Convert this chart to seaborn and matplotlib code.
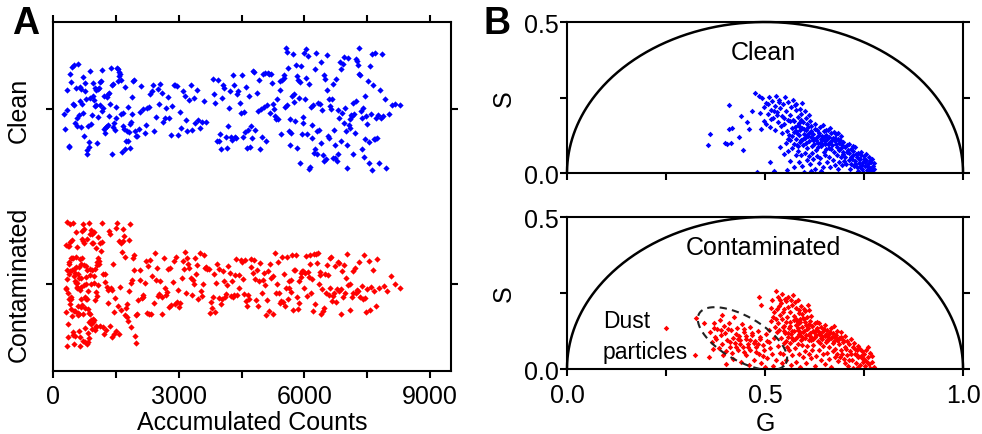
import numpy as np
import pandas as pd
import matplotlib
matplotlib.use("Agg")
import matplotlib.pyplot as plt
import seaborn as sns

# ---------------- data ----------------
categories = ["Clean", "Contaminated"]
count_ticks = [0, 1500, 3000, 4500, 6000, 7500, 9000]
count_tick_labels = ["0", "", "3000", "", "6000", "", "9000"]
phasor_ticks = [0.0, 0.25, 0.5, 0.75, 1.0]
phasor_tick_labels = ["0.0", "", "0.5", "", "1.0"]
s_ticks = [0.0, 0.25, 0.5]
s_tick_labels = ["0.0", "", "0.5"]

# Panel A : accumulated counts per particle, Clean sample (segments of the strip)
clean_counts_a = [255, 281, 322, 338, 371, 384, 402, 437, 451, 468, 497, 512, 519, 548, 566, 583, 597,
                  611, 634, 652, 668, 671, 694, 713, 726, 742, 759, 771, 788, 806, 812, 833, 847, 869,
                  878, 894, 915, 921, 946, 958, 973, 991, 1004, 1022, 1037, 1049, 1068, 1083, 1097,
                  1116, 1128, 1141, 1163, 1178, 1186, 1209, 1224, 1238, 1257, 1266, 1289, 1301, 1318,
                  1336, 1347, 1369, 1382, 1396, 1415, 1431, 1442, 1463, 1478, 1494, 1507, 1526, 1539,
                  1554, 1571, 1583, 1602, 1618, 1631, 1652, 1667, 1679, 1698, 1713, 1728, 1744, 1762,
                  1779, 1791, 1808, 1826, 1843, 1861, 1874, 1893, 1912, 1936, 1958, 1979]
clean_counts_b = [2015, 2048, 2083, 2110, 2152, 2186, 2214, 2247, 2291, 2318, 2356, 2389, 2421, 2463,
                  2495, 2527, 2561, 2604, 2633, 2671, 2702, 2745, 2778, 2806, 2851, 2884, 2917, 2952,
                  2989, 3031, 3064, 3098, 3142, 3177, 3205, 3248, 3286, 3319, 3357, 3394, 3438, 3471,
                  3512, 3556, 3603, 3648]
clean_counts_c = [3812, 3845, 3871, 3904, 3932, 3958, 3991, 4017, 4043, 4066, 4092, 4121, 4148, 4169,
                  4197, 4224, 4246, 4273, 4301, 4322, 4348, 4377, 4402, 4426, 4451, 4479, 4503, 4529,
                  4552, 4578, 4604, 4627, 4655, 4681, 4703, 4731, 4756, 4779, 4808, 4832, 4857, 4884,
                  4906, 4933, 4958, 4981, 5009, 5034, 5058, 5082, 5109, 5133, 5156, 5182, 5207, 5231,
                  5258, 5281, 5304, 5332, 5357, 5379, 5406, 5428, 5453, 5477]
clean_counts_d = [5502, 5519, 5541, 5556, 5578, 5593, 5611, 5634, 5648, 5667, 5689, 5702, 5724, 5741,
                  5759, 5776, 5797, 5812, 5833, 5849, 5866, 5885, 5903, 5921, 5938, 5957, 5974, 5992,
                  6011, 6027, 6046, 6063, 6081, 6099, 6118, 6134, 6152, 6171, 6188, 6206, 6223, 6242,
                  6259, 6277, 6296, 6312, 6331, 6348, 6366, 6385, 6402, 6419, 6438, 6456, 6473, 6491,
                  6509, 6528, 6545, 6562, 6581, 6598, 6617, 6634, 6652, 6671, 6688, 6706, 6723, 6742,
                  6759, 6777, 6796, 6813, 6831, 6849, 6867, 6884, 6903, 6920, 6938, 6957, 6974, 6992,
                  7011, 7028, 7046, 7064, 7082, 7099, 7118, 7135, 7153, 7171, 7189, 7207, 7225, 7243,
                  7261, 7278, 7296, 7314, 7332, 7351, 7368, 7386, 7404, 7422, 7441, 7458, 7476, 7495,
                  7512, 7531, 7549, 7567, 7585, 7603, 7622, 7641, 7659, 7678, 7697, 7716, 7736, 7757,
                  7779, 7802, 7826, 7851, 7883, 7921, 7958]
clean_counts_e = [8010, 8090, 8160, 8290]

# Panel A : Contaminated sample
contam_counts_a = [300, 306, 311, 318, 322, 329, 334, 341, 347, 352, 358, 363, 370, 375, 381, 388, 393,
                   399, 404, 411, 416, 423, 428, 434, 440, 445, 452, 457, 463, 469, 474, 481, 486, 492,
                   498, 503, 510, 515, 521, 527, 533, 538, 545, 550, 556, 562, 568, 573, 580, 585, 591,
                   597, 603, 608, 615, 620, 626, 632, 638, 644, 649, 656, 661, 667, 673, 679, 684, 691,
                   696, 702, 708, 714, 720, 726, 731, 737, 743, 749, 755, 761, 767, 772, 779, 784, 790,
                   796, 802, 808, 814, 820, 826, 832, 838, 844, 850, 856, 862, 868, 874, 880, 886, 892,
                   898, 905, 911, 917, 923, 929, 936, 942, 948, 955, 961, 968, 974, 981, 987, 994, 1001,
                   1008, 1015, 1022, 1029, 1037, 1044, 1052, 1060, 1068, 1076, 1085, 1094, 1103, 1113,
                   1124, 1137]
contam_counts_b = [1158, 1172, 1189, 1203, 1221, 1236, 1252, 1270, 1284, 1301, 1319, 1333, 1350, 1368,
                   1382, 1399, 1417, 1431, 1448, 1466, 1480, 1497, 1515, 1529, 1546, 1564, 1578, 1595,
                   1613, 1627, 1644, 1662, 1676, 1693, 1711, 1725, 1742, 1760, 1774, 1791, 1809, 1823,
                   1840, 1858, 1872, 1889, 1907, 1921, 1938, 1956, 1970, 1988]
contam_counts_c = [2008, 2031, 2066, 2079, 2112, 2140, 2153, 2188, 2221, 2237, 2270, 2294, 2318, 2349,
                   2362, 2401, 2433, 2447, 2476, 2512, 2529, 2558, 2590, 2611, 2639, 2672, 2686, 2721,
                   2748, 2770, 2803, 2819, 2856, 2881, 2904, 2938, 2952, 2991, 3017, 3039, 3074, 3092,
                   3121, 3156, 3170, 3204, 3233, 3251, 3288, 3306, 3339, 3365, 3388, 3417, 3446, 3461,
                   3498, 3524, 3547, 3580, 3597, 3633, 3659, 3676, 3712, 3738, 3760, 3791, 3808, 3844,
                   3872, 3889, 3921, 3950, 3968, 4003, 4027, 4049, 4083, 4101, 4134, 4162, 4178, 4215,
                   4240, 4263, 4296, 4311, 4347, 4372, 4395, 4428, 4446, 4481, 4505, 4527, 4559, 4583,
                   4601, 4638, 4662, 4684, 4717, 4735, 4770, 4793, 4816, 4849, 4866, 4902, 4925, 4948,
                   4979, 5001, 5036, 5058, 5079, 5113, 5131, 5166, 5189, 5210, 5244, 5262, 5297, 5318,
                   5341, 5372, 5390, 5421, 5444, 5463, 5494, 5512, 5531, 5559, 5577, 5602, 5624, 5641,
                   5669, 5688, 5705, 5733, 5751, 5774, 5798, 5815, 5842, 5861, 5879, 5907, 5925, 5948,
                   5970, 5988, 6014, 6036, 6053, 6081, 6099, 6122, 6145, 6162, 6190, 6208, 6227, 6254,
                   6273, 6296, 6318, 6337, 6363, 6381, 6402, 6428, 6447, 6469, 6491, 6510, 6537, 6555,
                   6578, 6601, 6619, 6645, 6664, 6686, 6709, 6728, 6754, 6772, 6795, 6819, 6837, 6863,
                   6881, 6905, 6931, 6952, 6979, 7003, 7021, 7050, 7077, 7096, 7128, 7153, 7171, 7204,
                   7231, 7252, 7285, 7311, 7333, 7368, 7394, 7416, 7451, 7477, 7502, 7538, 7566, 7593,
                   7631, 7662, 7698, 7741, 7785]
contam_counts_d = [7905, 7980, 8060, 8170, 8290]

# Panel B : phasor coordinates (G, S), Clean sample
clean_phasor = [
    # sparse points left of the main cloud
    (0.356, 0.093), (0.36, 0.13), (0.41, 0.225), (0.40, 0.10), (0.405, 0.097), (0.415, 0.10),
    (0.417, 0.15), (0.41, 0.145), (0.445, 0.076), (0.44, 0.19), (0.455, 0.17), (0.46, 0.146),
    (0.467, 0.205), (0.487, 0.2), (0.49, 0.146), (0.475, 0.265), (0.485, 0.255), (0.48, 0.003),
    (0.435, 0.12),
    # upper-left part of the main cloud
    (0.493, 0.247), (0.498, 0.218), (0.502, 0.231), (0.507, 0.196), (0.511, 0.252), (0.514, 0.209),
    (0.518, 0.238), (0.521, 0.183), (0.524, 0.222), (0.527, 0.256), (0.531, 0.201), (0.533, 0.169),
    (0.536, 0.243), (0.539, 0.214), (0.542, 0.188), (0.546, 0.229), (0.548, 0.161), (0.551, 0.251),
    (0.553, 0.204), (0.557, 0.176), (0.559, 0.236), (0.562, 0.192), (0.566, 0.219), (0.568, 0.148),
    (0.571, 0.241), (0.574, 0.171), (0.577, 0.207), (0.579, 0.228), (0.583, 0.186), (0.586, 0.154),
    (0.588, 0.213), (0.592, 0.197), (0.594, 0.232), (0.597, 0.168), (0.601, 0.206), (0.604, 0.182),
    (0.497, 0.173), (0.503, 0.162), (0.512, 0.151), (0.516, 0.178), (0.526, 0.144), (0.529, 0.191),
    (0.541, 0.157), (0.544, 0.133), (0.555, 0.139), (0.561, 0.126), (0.564, 0.171), (0.573, 0.135),
    (0.582, 0.159), (0.589, 0.141), (0.598, 0.147), (0.607, 0.161), (0.611, 0.192), (0.614, 0.172),
    (0.508, 0.227), (0.535, 0.236), (0.549, 0.183), (0.576, 0.224), (0.591, 0.176), (0.522, 0.204),
    # dense core
    (0.563, 0.108), (0.567, 0.121), (0.572, 0.097), (0.575, 0.152), (0.578, 0.114), (0.581, 0.132),
    (0.584, 0.088), (0.587, 0.127), (0.59, 0.109), (0.593, 0.148), (0.596, 0.094), (0.599, 0.129),
    (0.602, 0.116), (0.604, 0.143), (0.607, 0.082), (0.609, 0.124), (0.612, 0.105), (0.615, 0.139),
    (0.617, 0.155), (0.619, 0.091), (0.622, 0.128), (0.624, 0.113), (0.627, 0.146), (0.629, 0.077),
    (0.631, 0.119), (0.633, 0.101), (0.636, 0.134), (0.638, 0.152), (0.641, 0.089), (0.643, 0.121),
    (0.645, 0.108), (0.648, 0.139), (0.65, 0.071), (0.652, 0.097), (0.655, 0.126), (0.657, 0.113),
    (0.659, 0.143), (0.662, 0.084), (0.664, 0.104), (0.666, 0.131), (0.669, 0.093), (0.671, 0.117),
    (0.673, 0.069), (0.676, 0.106), (0.678, 0.128), (0.681, 0.087), (0.683, 0.112), (0.686, 0.075),
    (0.688, 0.099), (0.691, 0.121), (0.693, 0.083), (0.696, 0.063), (0.698, 0.104), (0.571, 0.176),
    (0.586, 0.166), (0.603, 0.099), (0.618, 0.067), (0.626, 0.162), (0.634, 0.087), (0.646, 0.158),
    (0.654, 0.081), (0.663, 0.148), (0.674, 0.136), (0.684, 0.133), (0.612, 0.131), (0.628, 0.108),
    (0.642, 0.113), (0.658, 0.095), (0.668, 0.109), (0.679, 0.096), (0.597, 0.112), (0.606, 0.126),
    (0.623, 0.097), (0.637, 0.126), (0.649, 0.118), (0.661, 0.119), (0.616, 0.118), (0.632, 0.141),
    (0.644, 0.096), (0.653, 0.141), (0.667, 0.078), (0.677, 0.117), (0.689, 0.109), (0.694, 0.094),
    (0.608, 0.151), (0.588, 0.103), (0.579, 0.139), (0.621, 0.109), (0.639, 0.099), (0.651, 0.107),
    # lower-right tail
    (0.701, 0.087), (0.703, 0.052), (0.706, 0.071), (0.708, 0.094), (0.711, 0.043), (0.713, 0.066),
    (0.716, 0.081), (0.718, 0.029), (0.721, 0.058), (0.723, 0.072), (0.726, 0.041), (0.728, 0.086),
    (0.731, 0.019), (0.733, 0.054), (0.736, 0.067), (0.738, 0.033), (0.741, 0.046), (0.743, 0.071),
    (0.746, 0.012), (0.748, 0.038), (0.751, 0.056), (0.753, 0.024), (0.756, 0.043), (0.758, 0.009),
    (0.761, 0.031), (0.763, 0.052), (0.766, 0.018), (0.768, 0.037), (0.771, 0.006), (0.773, 0.024),
    (0.776, 0.013), (0.704, 0.031), (0.714, 0.014), (0.724, 0.022), (0.734, 0.007), (0.744, 0.026),
    (0.754, 0.062), (0.764, 0.041), (0.697, 0.071), (0.699, 0.039), (0.709, 0.077), (0.719, 0.046),
    (0.729, 0.063), (0.739, 0.021), (0.749, 0.047), (0.759, 0.019), (0.769, 0.047), (0.692, 0.052),
    (0.687, 0.038), (0.682, 0.061), (0.695, 0.027), (0.712, 0.097), (0.722, 0.088), (0.742, 0.058),
    (0.752, 0.035), (0.762, 0.009), (0.774, 0.033), (0.717, 0.052), (0.727, 0.031), (0.737, 0.047),
    (0.747, 0.003),
    # scattered points below the cloud
    (0.513, 0.036), (0.523, 0.006), (0.538, 0.087), (0.547, 0.062), (0.552, 0.101), (0.558, 0.073),
    (0.562, 0.041), (0.569, 0.083), (0.573, 0.021), (0.577, 0.058), (0.582, 0.072), (0.585, 0.037),
    (0.591, 0.059), (0.594, 0.024), (0.602, 0.066), (0.605, 0.043), (0.611, 0.056), (0.614, 0.029),
    (0.62, 0.047), (0.625, 0.012), (0.63, 0.057), (0.636, 0.034), (0.64, 0.049), (0.646, 0.019),
    (0.651, 0.058), (0.656, 0.038), (0.661, 0.053), (0.665, 0.021), (0.672, 0.044), (0.556, 0.011),
    (0.598, 0.004), (0.641, 0.007), (0.581, 0.094), (0.559, 0.112), (0.617, 0.008), (0.676, 0.027),
    (0.684, 0.012),
]

# Panel B : phasor coordinates (G, S), Contaminated sample
contam_phasor = [
    # isolated points
    (0.25, 0.135), (0.323, 0.046), (0.326, 0.168), (0.345, 0.15),
    # dust-particle cluster
    (0.362, 0.121), (0.366, 0.088), (0.371, 0.152), (0.374, 0.104), (0.379, 0.133), (0.383, 0.069),
    (0.386, 0.161), (0.389, 0.112), (0.392, 0.083), (0.396, 0.142), (0.399, 0.118), (0.402, 0.058),
    (0.404, 0.097), (0.408, 0.151), (0.411, 0.074), (0.414, 0.127), (0.418, 0.101), (0.421, 0.172),
    (0.424, 0.086), (0.428, 0.136), (0.431, 0.061), (0.434, 0.109), (0.438, 0.094), (0.441, 0.149),
    (0.444, 0.071), (0.448, 0.122), (0.451, 0.046), (0.453, 0.099), (0.457, 0.081), (0.461, 0.138),
    (0.463, 0.062), (0.467, 0.111), (0.471, 0.031), (0.474, 0.091), (0.478, 0.072), (0.482, 0.124),
    (0.484, 0.051), (0.488, 0.098), (0.491, 0.021), (0.494, 0.079), (0.498, 0.062), (0.502, 0.114),
    (0.506, 0.036), (0.509, 0.088), (0.513, 0.069), (0.518, 0.051), (0.523, 0.102), (0.527, 0.029),
    (0.532, 0.076), (0.538, 0.054), (0.543, 0.019), (0.548, 0.086), (0.369, 0.066), (0.393, 0.046),
    (0.419, 0.034), (0.439, 0.024), (0.459, 0.014), (0.377, 0.098), (0.406, 0.133), (0.426, 0.116),
    (0.446, 0.131), (0.466, 0.119), (0.487, 0.106), (0.511, 0.128), (0.416, 0.054), (0.456, 0.073),
    (0.476, 0.056), (0.496, 0.043), (0.436, 0.081), (0.391, 0.179), (0.358, 0.041), (0.401, 0.016),
    (0.521, 0.011), (0.499, 0.006), (0.433, 0.098), (0.452, 0.108), (0.472, 0.087), (0.412, 0.089),
    (0.388, 0.127), (0.462, 0.097), (0.481, 0.083), (0.447, 0.056), (0.427, 0.071), (0.372, 0.136),
    (0.504, 0.093),
    # upper-left part of the main cloud
    (0.486, 0.236), (0.491, 0.209), (0.517, 0.227), (0.528, 0.256), (0.531, 0.199), (0.534, 0.238),
    (0.538, 0.178), (0.541, 0.216), (0.544, 0.247), (0.548, 0.196), (0.553, 0.223), (0.556, 0.172),
    (0.559, 0.237), (0.563, 0.188), (0.568, 0.211), (0.571, 0.242), (0.574, 0.174), (0.578, 0.201),
    (0.583, 0.227), (0.587, 0.183), (0.592, 0.206), (0.597, 0.169), (0.602, 0.192), (0.608, 0.212),
    (0.616, 0.176), (0.523, 0.186), (0.527, 0.163), (0.533, 0.151), (0.543, 0.166), (0.549, 0.143),
    (0.562, 0.156), (0.576, 0.219), (0.581, 0.158), (0.589, 0.163), (0.599, 0.198), (0.514, 0.201),
    (0.519, 0.171), (0.524, 0.139), (0.529, 0.121), (0.516, 0.159), (0.536, 0.207), (0.551, 0.231),
    (0.566, 0.228), (0.557, 0.203), (0.585, 0.194), (0.594, 0.181), (0.606, 0.171), (0.612, 0.195),
    (0.539, 0.226), (0.546, 0.186),
    # dense core
    (0.536, 0.128), (0.541, 0.102), (0.546, 0.139), (0.551, 0.118), (0.554, 0.156), (0.558, 0.104),
    (0.561, 0.134), (0.564, 0.087), (0.569, 0.126), (0.572, 0.161), (0.576, 0.099), (0.577, 0.146),
    (0.582, 0.129), (0.583, 0.081), (0.586, 0.114), (0.588, 0.154), (0.591, 0.096), (0.593, 0.139),
    (0.596, 0.121), (0.598, 0.164), (0.601, 0.103), (0.603, 0.146), (0.606, 0.076), (0.607, 0.131),
    (0.611, 0.113), (0.613, 0.158), (0.616, 0.094), (0.618, 0.141), (0.621, 0.126), (0.622, 0.079),
    (0.626, 0.151), (0.627, 0.104), (0.631, 0.134), (0.633, 0.091), (0.636, 0.116), (0.637, 0.153),
    (0.641, 0.101), (0.642, 0.138), (0.646, 0.124), (0.647, 0.076), (0.651, 0.109), (0.652, 0.144),
    (0.656, 0.096), (0.657, 0.129), (0.661, 0.114), (0.662, 0.071), (0.666, 0.101), (0.667, 0.134),
    (0.671, 0.086), (0.672, 0.119), (0.676, 0.104), (0.677, 0.066), (0.681, 0.094), (0.682, 0.124),
    (0.686, 0.081), (0.691, 0.106), (0.692, 0.061), (0.696, 0.089), (0.701, 0.074), (0.703, 0.108),
    (0.552, 0.091), (0.556, 0.071), (0.566, 0.114), (0.571, 0.094), (0.581, 0.106), (0.589, 0.121),
    (0.594, 0.079), (0.599, 0.124), (0.609, 0.136), (0.614, 0.119), (0.619, 0.141), (0.624, 0.121),
    (0.629, 0.111), (0.639, 0.119), (0.644, 0.099), (0.649, 0.131), (0.654, 0.116), (0.659, 0.094),
    (0.664, 0.121), (0.669, 0.104), (0.679, 0.111), (0.684, 0.096), (0.587, 0.151), (0.602, 0.156),
    (0.611, 0.094), (0.621, 0.099), (0.632, 0.156), (0.638, 0.084), (0.604, 0.111), (0.573, 0.124),
    (0.584, 0.136), (0.563, 0.141), (0.548, 0.124), (0.612, 0.149), (0.633, 0.126), (0.653, 0.088),
    (0.673, 0.141), (0.693, 0.121), (0.578, 0.166), (0.597, 0.101), (0.558, 0.118), (0.567, 0.101),
    (0.592, 0.109), (0.617, 0.106), (0.628, 0.128), (0.643, 0.109), (0.658, 0.106), (0.674, 0.093),
    (0.688, 0.101), (0.698, 0.097),
    # lower-right tail
    (0.694, 0.051), (0.699, 0.034), (0.704, 0.066), (0.708, 0.046), (0.711, 0.081), (0.714, 0.059),
    (0.719, 0.031), (0.721, 0.071), (0.726, 0.049), (0.729, 0.021), (0.732, 0.061), (0.736, 0.039),
    (0.739, 0.066), (0.741, 0.014), (0.746, 0.036), (0.749, 0.051), (0.752, 0.011), (0.754, 0.026),
    (0.759, 0.041), (0.763, 0.016), (0.766, 0.054), (0.769, 0.024), (0.774, 0.006), (0.706, 0.091),
    (0.716, 0.099), (0.724, 0.084), (0.734, 0.076), (0.744, 0.059), (0.756, 0.064), (0.761, 0.074),
    (0.701, 0.019), (0.709, 0.009), (0.722, 0.004), (0.689, 0.041), (0.684, 0.026), (0.742, 0.044),
    (0.731, 0.046), (0.751, 0.034), (0.761, 0.021), (0.771, 0.044), (0.681, 0.051), (0.676, 0.039),
    (0.718, 0.051), (0.736, 0.006), (0.764, 0.004), (0.727, 0.066), (0.713, 0.029), (0.747, 0.024),
    # scattered points below the cloud
    (0.546, 0.049), (0.554, 0.031), (0.561, 0.061), (0.566, 0.014), (0.569, 0.046), (0.576, 0.069),
    (0.579, 0.024), (0.586, 0.051), (0.589, 0.006), (0.596, 0.039), (0.601, 0.059), (0.604, 0.021),
    (0.611, 0.049), (0.616, 0.036), (0.619, 0.061), (0.626, 0.011), (0.629, 0.044), (0.636, 0.064),
    (0.641, 0.031), (0.646, 0.051), (0.651, 0.016), (0.656, 0.054), (0.661, 0.034), (0.666, 0.006),
    (0.671, 0.059),
]

# ---------------- style ----------------
sns.set_style("ticks")
plt.rcParams['font.family'] = ['Liberation Sans', 'DejaVu Sans']
plt.rcParams['axes.linewidth'] = 1.5
for key in ["text.color", "axes.labelcolor", "xtick.color", "ytick.color", "axes.edgecolor"]:
    plt.rcParams[key] = "black"
np.random.seed(3)  # reproducible strip jitter

BLUE = "#0000FF"
RED = "#FF0000"
FS = 18

fig = plt.figure(figsize=(9.82, 4.35), dpi=100)

# ---------------- Panel A ----------------
axA = fig.add_axes([0.054, 0.1448, 0.4053, 0.8023])

segments = [
    ("Clean", clean_counts_a, 0.27, BLUE),
    ("Clean", clean_counts_b, 0.16, BLUE),
    ("Clean", clean_counts_c, 0.24, BLUE),
    ("Clean", clean_counts_d, 0.35, BLUE),
    ("Clean", clean_counts_e, 0.03, BLUE),
    ("Contaminated", contam_counts_a, 0.36, RED),
    ("Contaminated", contam_counts_b, 0.36, RED),
    ("Contaminated", contam_counts_c, 0.18, RED),
    ("Contaminated", contam_counts_d, 0.05, RED),
]
for cat, vals, jit, col in segments:
    df = pd.DataFrame({"counts": vals, "sample": [cat] * len(vals)})
    sns.stripplot(data=df, x="counts", y="sample", order=categories, orient="h",
                  jitter=jit, color=col, marker="D", size=3.2, linewidth=0, ax=axA)

axA.set_xlim(0, 9500)
axA.set_ylim(1.5, -0.5)
axA.set_xticks(count_ticks)
axA.set_xticklabels(count_tick_labels, fontsize=FS)
axA.set_yticks([0, 1])
axA.set_yticklabels(categories, fontsize=FS, rotation=90, va="center")
axA.tick_params(axis="both", direction="out", length=5, width=1.5, top=True, right=True,
                labeltop=False, labelright=False, color="black", labelcolor="black")
axA.tick_params(axis="y", pad=11)
axA.tick_params(axis="x", pad=4)
axA.set_xlabel("Accumulated Counts", fontsize=FS, labelpad=2)
axA.set_ylabel("")
for sp in axA.spines.values():
    sp.set_visible(True)
    sp.set_linewidth(1.5)
    sp.set_color("black")

fig.text(12 / 982, 1 - 6 / 435, "A", fontsize=27, fontweight="bold", va="top", ha="left")
fig.text(483 / 982, 1 - 6 / 435, "B", fontsize=27, fontweight="bold", va="top", ha="left")

# ---------------- Panel B ----------------
axB1 = fig.add_axes([0.5774, 0.6, 0.4033, 0.3471])
axB2 = fig.add_axes([0.5774, 0.1494, 0.4033, 0.3494])

t = np.linspace(0, np.pi, 400)
circ_g = 0.5 + 0.5 * np.cos(t)
circ_s = 0.5 * np.sin(t)

for ax, pts, col, title in [(axB1, clean_phasor, BLUE, "Clean"),
                             (axB2, contam_phasor, RED, "Contaminated")]:
    dfp = pd.DataFrame(pts, columns=["G", "S"])
    ax.plot(circ_g, circ_s, color="black", lw=1.8, clip_on=False, zorder=3)
    sns.scatterplot(data=dfp, x="G", y="S", color=col, marker="D", s=8, linewidth=0, ax=ax,
                    zorder=2)
    ax.set_xlim(0, 1)
    ax.set_ylim(0, 0.5)
    ax.set_xticks(phasor_ticks)
    ax.set_yticks(s_ticks)
    ax.set_yticklabels(s_tick_labels, fontsize=FS)
    ax.tick_params(axis="both", direction="out", length=5, width=1.5, right=True, top=False,
                   labelright=False, color="black", labelcolor="black")
    ax.tick_params(axis="y", pad=1)
    ax.set_ylabel("S", fontsize=FS, labelpad=6)
    ax.text(0.495, 0.40, title, fontsize=FS, ha="center", va="center")
    for sp in ax.spines.values():
        sp.set_visible(True)
        sp.set_linewidth(1.5)
        sp.set_color("black")

axB1.set_xticklabels([])
axB1.set_xlabel("")
axB2.set_xticklabels(phasor_tick_labels, fontsize=FS)
axB2.tick_params(axis="x", pad=5)
axB2.set_xlabel("G", fontsize=FS, labelpad=3)

# dashed ellipse around the dust particles
a_px, b_px, th = 50.0, 22.0, np.deg2rad(-30)
tt = np.linspace(0, 2 * np.pi, 300)
dx = a_px * np.cos(tt) * np.cos(th) - b_px * np.sin(tt) * np.sin(th)
dy = a_px * np.cos(tt) * np.sin(th) + b_px * np.sin(tt) * np.cos(th)
axB2.plot(0.443 + dx / 396.0, 0.100 + dy / 304.0, color="#222222", lw=1.5,
          linestyle=(0, (3.5, 2.5)), zorder=4)
axB2.text(0.09, 0.11, "Dust\nparticles", fontsize=16.5, ha="left", va="center", linespacing=1.45)

fig.savefig("out.png", dpi=100)
